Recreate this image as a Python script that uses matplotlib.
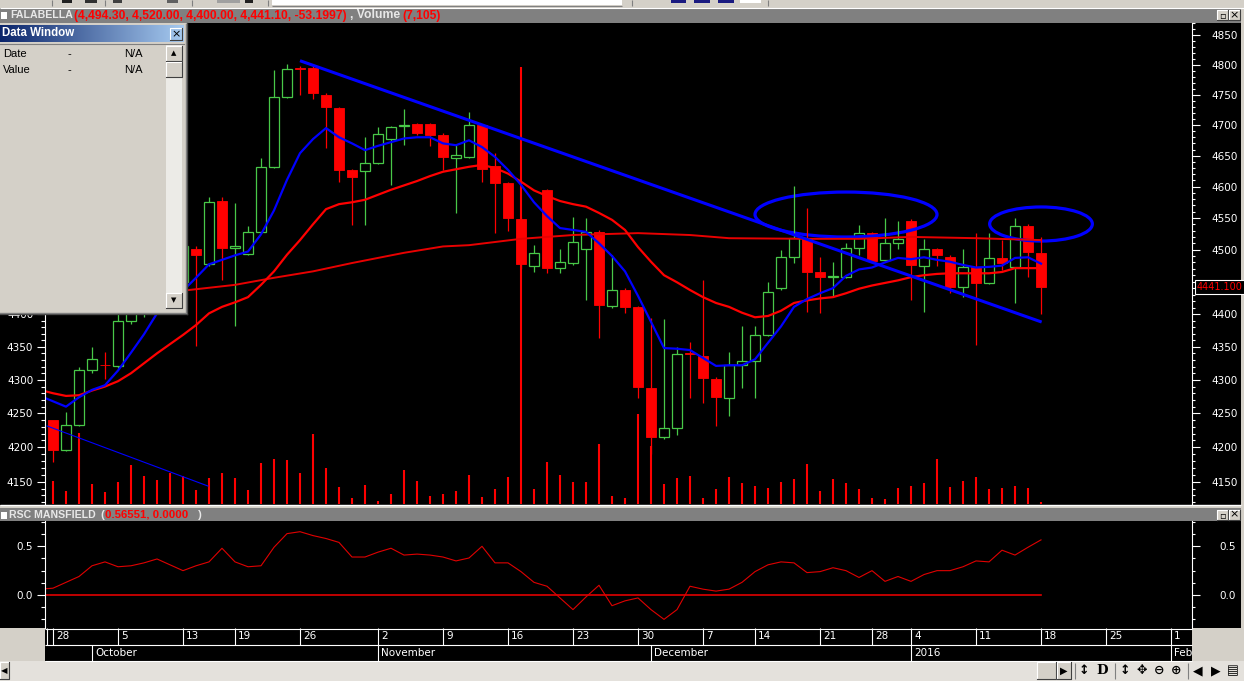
import numpy as np
import matplotlib
matplotlib.use("Agg")
import matplotlib.pyplot as plt
from matplotlib.patches import Rectangle, Ellipse
from matplotlib.ticker import FixedLocator, FuncFormatter, NullFormatter
from matplotlib.transforms import blended_transform_factory, offset_copy

plt.rcParams['font.family'] = ['DejaVu Sans']

# ---- daily bars (bar 0 = 28 Sep 2015) ----
opens = [4240, 4196, 4233, 4315, 4323, 4321, 4389, 4405, 4430, 4418,
         4450, 4501, 4477, 4577, 4503, 4493, 4528, 4632, 4746, 4794,
         4795, 4750, 4728, 4627, 4625, 4638, 4677, 4699, 4702, 4702,
         4684, 4646, 4648, 4700, 4633, 4606, 4548, 4474, 4594, 4471,
         4479, 4501, 4528, 4412, 4437, 4411, 4288, 4215, 4228, 4340,
         4336, 4301, 4273, 4322, 4328, 4368, 4440, 4488, 4518, 4465,
         4457, 4457, 4503, 4526, 4484, 4510, 4545, 4474, 4501, 4488,
         4441, 4473, 4448, 4487, 4473, 4537, 4494.3]
highs = [4240, 4252, 4319, 4350, 4342, 4401, 4425, 4440, 4445, 4460,
         4510, 4506, 4583, 4583, 4574, 4537, 4646, 4791, 4801, 4798,
         4800, 4753, 4730, 4629, 4680, 4697, 4698, 4726, 4703, 4703,
         4687, 4667, 4721, 4702, 4654, 4608, 4552, 4507, 4597, 4501,
         4552, 4550, 4531, 4492, 4440, 4413, 4394, 4392, 4350, 4357,
         4452, 4304, 4342, 4382, 4382, 4449, 4499, 4601, 4566, 4488,
         4481, 4510, 4539, 4528, 4550, 4545, 4548, 4517, 4503, 4491,
         4501, 4526, 4526, 4515, 4550, 4540, 4520]
lows = [4178, 4195, 4231, 4310, 4301, 4318, 4385, 4395, 4405, 4410,
        4445, 4351, 4475, 4452, 4382, 4491, 4526, 4630, 4744, 4750,
        4743, 4662, 4607, 4539, 4539, 4636, 4603, 4667, 4684, 4666,
        4627, 4558, 4646, 4607, 4526, 4529, 4470, 4465, 4463, 4463,
        4476, 4421, 4363, 4410, 4401, 4273, 4190, 4212, 4218, 4273,
        4265, 4231, 4246, 4288, 4273, 4366, 4437, 4479, 4403, 4401,
        4426, 4455, 4492, 4480, 4482, 4501, 4421, 4403, 4474, 4432,
        4426, 4353, 4446, 4468, 4417, 4457, 4400]
closes = [4196, 4233, 4315, 4331, 4322, 4389, 4410, 4430, 4418, 4452,
          4505, 4492, 4575, 4503, 4506, 4528, 4632, 4746, 4793, 4793,
          4753, 4730, 4627, 4616, 4638, 4685, 4697, 4700, 4687, 4684,
          4648, 4651, 4700, 4628, 4606, 4550, 4477, 4495, 4471, 4481,
          4512, 4528, 4414, 4437, 4411, 4289, 4215, 4228, 4339, 4339,
          4303, 4274, 4322, 4328, 4368, 4434, 4488, 4518, 4465, 4457,
          4458, 4503, 4526, 4482, 4510, 4517, 4476, 4501, 4492, 4441,
          4473, 4448, 4487, 4479, 4537, 4496, 4441.1]
volume_k = [82, 46, 252, 71, 43, 78, 138, 99, 85, 110,
            99, 50, 92, 110, 92, 50, 146, 160, 156, 110,
            249, 128, 60, 21, 67, 11, 36, 121, 82, 28,
            36, 46, 103, 25, 53, 96, 1551, 53, 149, 103,
            78, 78, 213, 28, 21, 320, 206, 71, 92, 99,
            21, 53, 96, 75, 64, 57, 78, 89, 142, 46,
            89, 75, 53, 21, 18, 57, 64, 75, 160, 60,
            82, 96, 53, 57, 64, 57, 7.1]

# moving averages, bars -1 .. 76
fast_ma = [4276, 4268, 4260, 4274, 4285, 4292, 4314, 4341, 4369, 4401, 4418,
           4436, 4456, 4477, 4484, 4491, 4497, 4524, 4562, 4611, 4654,
           4677, 4695, 4680, 4670, 4659, 4666, 4672, 4678, 4680, 4680,
           4670, 4667, 4675, 4664, 4648, 4627, 4603, 4575, 4553, 4534,
           4531, 4528, 4510, 4490, 4466, 4428, 4388, 4348, 4347, 4345,
           4333, 4321, 4322, 4322, 4331, 4356, 4381, 4411, 4423, 4432,
           4440, 4459, 4469, 4472, 4480, 4487, 4485, 4488, 4484, 4481,
           4476, 4472, 4473, 4475, 4487, 4488, 4478]
mid_ma = [4285, 4280, 4276, 4277, 4284, 4290, 4298, 4310, 4325, 4340, 4354,
          4368, 4383, 4401, 4411, 4418, 4426, 4445, 4466, 4492, 4515,
          4540, 4564, 4572, 4575, 4579, 4587, 4595, 4602, 4609, 4617,
          4624, 4628, 4632, 4635, 4630, 4621, 4608, 4594, 4585, 4577,
          4572, 4568, 4558, 4547, 4531, 4504, 4481, 4460, 4449, 4437,
          4426, 4417, 4411, 4402, 4395, 4397, 4405, 4417, 4421, 4424,
          4426, 4432, 4439, 4444, 4448, 4452, 4457, 4460, 4462, 4463,
          4463, 4463, 4463, 4465, 4471, 4471, 4471]
slow_idx = [-1, 10, 14, 17, 20, 23, 27, 30, 32, 36, 40, 45, 49, 52, 58, 62, 66, 71, 76]
slow_ma = [4420, 4436, 4445, 4456, 4466, 4479, 4495, 4505, 4507, 4517,
           4523, 4526, 4523, 4518, 4517, 4517, 4520, 4518, 4515]

# RSC Mansfield, bars -1 .. 76
rsc = [0.06, 0.07, 0.13, 0.19, 0.30, 0.34, 0.29, 0.30, 0.33, 0.37, 0.31,
       0.25, 0.30, 0.34, 0.48, 0.34, 0.29, 0.30, 0.49, 0.63, 0.65,
       0.61, 0.58, 0.54, 0.39, 0.39, 0.44, 0.48, 0.41, 0.42, 0.41,
       0.39, 0.35, 0.38, 0.50, 0.33, 0.33, 0.24, 0.13, 0.09, -0.03,
       -0.15, -0.02, 0.10, -0.11, -0.06, -0.03, -0.15, -0.25, -0.15, 0.09,
       0.06, 0.04, 0.06, 0.13, 0.24, 0.31, 0.34, 0.33, 0.23, 0.24,
       0.28, 0.25, 0.18, 0.25, 0.14, 0.19, 0.14, 0.21, 0.25, 0.25,
       0.29, 0.35, 0.34, 0.46, 0.41, 0.49, 0.566]

# hand-drawn annotations
trend_idx = [19.0, 76.05]
trend_px = [4806.7, 4387.7]
trend2_idx = [-0.46, 11.92]
trend2_px = [4231.4, 4143.6]
zones = [(61.0, 4555.6, 14.0, 71.5), (76.0, 4540.5, 7.9, 54.0)]

day_idx = [0, 5, 10, 14, 19, 25, 30, 35, 40, 45, 50, 54, 59, 63, 66, 71, 76, 81, 86]
day_lbl = ['28', '5', '13', '19', '26', '2', '9', '16', '23', '30', '7', '14',
           '21', '28', '4', '11', '18', '25', '1']
month_idx = [3, 25, 46, 66, 86]
month_lbl = ['October', 'November', 'December', '2016', 'Feb']

n = len(closes)
idx = np.arange(n)
ma_idx = np.arange(-1, n)
o, h, l, c = map(np.array, (opens, highs, lows, closes))

RED = '#ff0000'
GREEN = '#48c848'
BLUE = '#0000ff'
LIGHT = '#e8e8e8'

W, H = 1244, 681
fig = plt.figure(figsize=(W / 100, H / 100), dpi=100)
fig.patch.set_facecolor('#d4d0c8')


def px_axes(x0, y0, x1, y1, **kw):
    return fig.add_axes([x0 / W, 1 - y1 / H, (x1 - x0) / W, (y1 - y0) / H], **kw)


def rect(a, x0, y0, x1, y1, fc, ec='none', lw=0, **kw):
    a.add_patch(Rectangle((x0, y0), x1 - x0, y1 - y0, facecolor=fc,
                          edgecolor=ec, linewidth=lw, **kw))


def button(a, x0, y0, x1, y1, fc='#d4d0c8'):
    rect(a, x0, y0, x1, y1, fc)
    a.plot([x0, x0, x1], [y1, y0, y0], color='white', lw=0.8)
    a.plot([x0, x1, x1], [y1, y1, y0], color='#404040', lw=0.8)


# ---------- window chrome ----------
ui = px_axes(0, 0, W, H)
ui.set_zorder(0)
ui.axis('off')
rect(ui, 0, 0, W, 8, '#d4d0c8')
# bits of the toolbar row above the chart
rect(ui, 272, 0, 622, 5, 'white')
ui.hlines(5.5, 272, 622, '#808080', lw=0.8)
for x0, x1, col in ((62, 72, '#202020'), (85, 97, '#303030'), (113, 122, '#404040'),
                    (167, 178, '#606060'), (217, 240, '#a0a0a0'), (245, 253, '#202020'),
                    (671, 686, '#1a1a80'), (694, 710, '#1a1a80'), (718, 734, '#1a1a80'),
                    (740, 761, 'white')):
    rect(ui, x0, 0, x1, 3, col)
for xs in (52, 105, 192, 268, 632, 768):
    ui.vlines(xs, 0, 6, '#808080', lw=0.8)
ui.hlines(7.5, 0, W, 'white', lw=0.8)
rect(ui, 0, 8, 1241, 23, '#808080')
rect(ui, 0, 23, 1241, 504.5, 'black')
ui.hlines(505, 0, 1241, 'white', lw=1)
rect(ui, 0, 505.5, 1241, 507.5, '#d4d0c8')
rect(ui, 0, 507.5, 1241, 521, '#808080')
rect(ui, 0, 521, 1241, 628, 'black')
rect(ui, 45, 628, 1192, 661, 'black')
ui.hlines([628.5, 644.5, 660.5], 45, 1192, 'white', lw=0.8)
ui.vlines(46.5, 628, 644.5, 'white', lw=0.8)
rect(ui, 0, 661, W, H, '#e4e1dc')

for yb in (8, 507.5):
    rect(ui, 0.5, yb + 4, 7, yb + 11, 'white')
    button(ui, 1217, yb + 2, 1228, yb + 12)
    button(ui, 1229, yb + 2, 1240, yb + 12)
    ui.text(1222.5, yb + 7.5, '▫', ha='center', va='center', fontsize=7, color='black')
    ui.text(1234.5, yb + 7, '×', ha='center', va='center', fontsize=8, color='black')

bold = dict(family='Liberation Sans', weight='bold', va='center')
ui.text(10, 15.5, 'FALABELLA', fontsize=7.6, color=LIGHT, **bold)
ui.text(74, 15.5, '(4,494.30, 4,520.00, 4,400.00, 4,441.10, -53.1997)',
        fontsize=8.7, color=RED, **bold)
ui.text(350, 15.5, ', Volume', fontsize=8.7, color=LIGHT, **bold)
ui.text(402, 15.5, '(7,105)', fontsize=8.7, color=RED, **bold)

ui.text(9, 514.5, 'RSC MANSFIELD', fontsize=7.6, color=LIGHT, **bold)
ui.text(100, 514.5, '(', fontsize=8.2, color=LIGHT, **bold)
ui.text(105, 514.5, '0.56551, 0.0000', fontsize=8.2, color=RED, **bold)
ui.text(195, 514.5, ' )', fontsize=8.2, color=LIGHT, **bold)

# bottom toolbar
button(ui, 0, 662, 9, 679)
ui.text(4.5, 670.5, '◀', ha='center', va='center', fontsize=6, color='black')
button(ui, 1037, 662, 1056, 679)
button(ui, 1057, 662, 1071, 679)
ui.text(1064, 670.5, '▶', ha='center', va='center', fontsize=7, color='black')
for xs in (1075, 1115, 1188):
    ui.vlines(xs, 663, 679, '#808080', lw=0.8)
icons = [(1084, '↕'), (1102, 'D'), (1125, '↕'), (1142, '✥'), (1159, '⊖'),
         (1176, '⊕'), (1198, '◀'), (1216, '▶'), (1233, '▤')]
for xi, gl in icons:
    ui.text(xi, 670.5, gl, ha='center', va='center', fontsize=9 if gl != 'D' else 9.5,
            color='black', family='DejaVu Serif' if gl == 'D' else 'DejaVu Sans',
            weight='bold')
ui.set_xlim(0, W)
ui.set_ylim(H, 0)

# ---------- price panel ----------
PMIN, PMAX = 4117.7, 4870.4          # log scale, panel y 504 .. 23
XMIN, XMAX = -0.615, 87.615

ax = px_axes(45, 23, 1192, 504)
ax_v = ax.twinx()
ax_r = ax.twinx()
for a, z in ((ax_v, 1), (ax, 2), (ax_r, 3)):
    a.set_zorder(z)
    a.set_facecolor('none')
    for s in a.spines.values():
        s.set_visible(False)

ax_v.vlines(idx, 0, volume_k, colors=RED, lw=1.5)
ax_v.set_ylim(0, 481 * 3.55)
ax_v.set_yticks([])

up = c >= o
body_lo = np.minimum(o, c)
body_hi = np.maximum(o, c)
cols = np.where(up, GREEN, RED)
ax.vlines(idx, body_hi, h, colors=cols, lw=0.9)
ax.vlines(idx, l, body_lo, colors=cols, lw=0.9)
ax.bar(idx[~up], (body_hi - body_lo)[~up], bottom=body_lo[~up], width=0.82,
       color=RED, edgecolor=RED, linewidth=0.6)
ax.bar(idx[up], (body_hi - body_lo)[up], bottom=body_lo[up], width=0.78,
       facecolor='none', edgecolor=GREEN, linewidth=0.9)

ax.plot(slow_idx, slow_ma, color='#e80000', lw=1.4)
ax.plot(ma_idx, mid_ma, color=RED, lw=1.6)
ax.plot(ma_idx, fast_ma, color=BLUE, lw=1.6)
ax.plot(trend_idx, trend_px, color=BLUE, lw=2.2, solid_capstyle='butt')
ax.plot(trend2_idx, trend2_px, color=BLUE, lw=0.8)
for cx, cy, ww, hh in zones:
    ax.add_patch(Ellipse((cx, cy), ww, hh, facecolor='none', edgecolor=BLUE, lw=2.3))

major = np.arange(4150, 4851, 50)
minor = np.arange(4120, 4871, 10)
for a in (ax, ax_r):
    a.set_yscale('log')
    a.set_ylim(PMIN, PMAX)
    a.yaxis.set_major_locator(FixedLocator(major))
    a.yaxis.set_minor_locator(FixedLocator(minor))
    a.yaxis.set_minor_formatter(NullFormatter())
    a.tick_params(axis='x', which='both', bottom=False, top=False,
                  labelbottom=False, labeltop=False)
# left labels above 4400 sit under the Data Window
ax.yaxis.set_major_formatter(FuncFormatter(lambda v, p: f'{v:.0f}' if v <= 4400 else ''))
ax_r.yaxis.set_major_formatter(FuncFormatter(lambda v, p: '' if abs(v - 4450) < 1 else f'{v:.0f}'))
ax.spines['left'].set_visible(True)
ax.spines['left'].set_color('white')
ax_r.spines['right'].set_visible(True)
ax_r.spines['right'].set_color('white')
ax.tick_params(axis='y', which='major', length=6, width=0.8, color='white',
               labelcolor='white', labelsize=7.5, pad=2.5)
ax.tick_params(axis='y', which='minor', length=3, width=0.8, color='white')
ax_r.tick_params(axis='y', which='major', length=5.8, width=0.8, color='white',
                 labelcolor='white', labelsize=7.5, pad=8)
ax_r.tick_params(axis='y', which='minor', length=2.5, width=0.8, color='white')

last_tr = offset_copy(blended_transform_factory(ax_r.transAxes, ax_r.transData),
                      fig=fig, x=5, y=0, units='dots')
ax_r.text(1.0, c[-1], f'{c[-1]:.3f}', transform=last_tr, color=RED, fontsize=7,
          va='center', ha='left', clip_on=False,
          bbox=dict(boxstyle='square,pad=0.2', facecolor='black', edgecolor='white', lw=0.8))

# ---------- RSC Mansfield panel ----------
mx = px_axes(45, 521, 1192, 628, sharex=ax)
mx_r = mx.twinx()
for a in (mx, mx_r):
    a.set_zorder(2)
    a.set_facecolor('none')
    for s in a.spines.values():
        s.set_visible(False)
    a.set_ylim(-0.3388, 0.7598)
    a.yaxis.set_major_locator(FixedLocator([0.0, 0.5]))
    a.yaxis.set_minor_locator(FixedLocator(np.arange(-0.25, 0.76, 0.125)))
    a.yaxis.set_major_formatter(FuncFormatter(lambda v, p: f'{v:.1f}'))
    a.yaxis.set_minor_formatter(NullFormatter())
    a.tick_params(axis='x', which='both', bottom=False, labelbottom=False)
mx.spines['left'].set_visible(True)
mx.spines['left'].set_color('white')
mx_r.spines['right'].set_visible(True)
mx_r.spines['right'].set_color('white')
mx.tick_params(axis='y', which='major', length=6, width=0.8, color='white',
               labelcolor='white', labelsize=7.5, pad=2.5)
mx.tick_params(axis='y', which='minor', length=3, width=0.8, color='white')
mx_r.tick_params(axis='y', which='major', length=5.8, width=0.8, color='white',
                 labelcolor='white', labelsize=7.5, pad=14)
mx_r.tick_params(axis='y', which='minor', length=2.5, width=0.8, color='white')
mx.plot([ma_idx[0], idx[-1]], [0, 0], color='#e00000', lw=1.2)
mx.plot(ma_idx, rsc, color='#e00000', lw=0.8)

# ---------- date axis ----------
dax = px_axes(45, 628, 1192, 661, sharex=ax)
dax.set_zorder(2)
dax.set_facecolor('none')
dax.axis('off')
dax.set_ylim(0, 2)
dax.vlines(day_idx, 1, 2, colors='white', lw=0.8)
dax.vlines(month_idx, 0, 1, colors='white', lw=0.8)
lbl_tr = offset_copy(dax.transData, fig=fig, x=3, y=0, units='dots')
for i, s in zip(day_idx, day_lbl):
    dax.text(i, 1.5, s, transform=lbl_tr, color='white', fontsize=7.5,
             va='center', ha='left', clip_on=True)
for i, s in zip(month_idx, month_lbl):
    dax.text(i, 0.5, s, transform=lbl_tr, color='white', fontsize=7.5,
             va='center', ha='left', clip_on=True)

ax.set_xlim(XMIN, XMAX)

# ---------- floating Data Window ----------
top = px_axes(0, 0, W, H)
top.set_zorder(20)
top.axis('off')
rect(top, 0, 23, 187, 314, '#d4d0c8')
top.plot([186.5, 186.5], [23, 314], color='#404040', lw=1)
top.plot([185.5, 185.5], [24, 313], color='#808080', lw=1)
top.plot([0, 187], [313.5, 313.5], color='#404040', lw=1)
top.plot([0, 186], [312.5, 312.5], color='#808080', lw=1)
gr = np.linspace(0, 1, 256)[None, :, None]
c0 = np.array([10, 36, 106]) / 255
c1 = np.array([166, 202, 240]) / 255
top.imshow(c0 * (1 - gr) + c1 * gr, extent=(0, 184, 42, 25), aspect='auto',
           interpolation='bilinear', zorder=2)
top.text(2, 33.5, 'Data Window', color='white', family='Liberation Sans',
         weight='bold', fontsize=8.3, va='center', zorder=3)
button(top, 170, 28, 182, 40)
top.text(176, 34, '×', ha='center', va='center', fontsize=8, color='black', zorder=4)
top.plot([0, 184], [43.5, 43.5], color='#808080', lw=0.8)
for yy, lab in ((54, 'Date'), (70, 'Value')):
    top.text(3, yy, lab, family='Liberation Sans', fontsize=8, va='center', color='black')
    top.text(68, yy, '-', family='Liberation Sans', fontsize=8, va='center', color='black')
    top.text(124, yy, 'N/A', family='Liberation Sans', fontsize=8, va='center', color='black')
rect(top, 166, 45, 182, 309, '#ecebe7')
button(top, 166, 46, 182, 61)
top.text(174, 53.5, '▲', ha='center', va='center', fontsize=5, color='black')
button(top, 166, 62, 182, 77)
button(top, 166, 293, 182, 308)
top.text(174, 300.5, '▼', ha='center', va='center', fontsize=5, color='black')
top.set_xlim(0, W)
top.set_ylim(H, 0)

fig.savefig('out.png', dpi=100, facecolor=fig.get_facecolor())
